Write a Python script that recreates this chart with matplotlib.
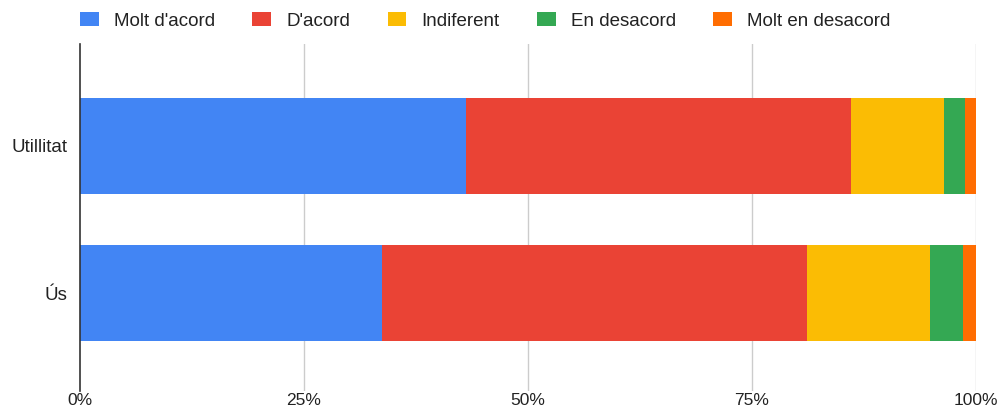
import matplotlib.pyplot as plt
import numpy as np

plt.rcParams['font.family'] = ['Liberation Sans', 'DejaVu Sans']

categories = ['Utillitat', 'Ús']
series_names = ["Molt d'acord", "D'acord", 'Indiferent', 'En desacord', 'Molt en desacord']
values = {
    "Molt d'acord": [43.1, 33.7],
    "D'acord": [43.0, 47.4],
    'Indiferent': [10.3, 13.8],
    'En desacord': [2.4, 3.7],
    'Molt en desacord': [1.2, 1.4],
}
colors = ['#4285F4', '#EA4335', '#FBBC04', '#34A853', '#FF6D01']
tick_vals = [0, 25, 50, 75, 100]
tick_labels = ['0%', '25%', '50%', '75%', '100%']

fig = plt.figure(figsize=(10.02, 4.12), dpi=100)
ax = fig.add_axes([0.0798, 0.05, 0.8942, 0.843])

ypos = np.arange(len(categories))
left = np.zeros(len(categories))
for name, col in zip(series_names, colors):
    v = np.array(values[name])
    ax.barh(ypos, v, left=left, height=0.65, color=col, label=name, zorder=3)
    left += v

ax.set_ylim(1.665, -0.69)
ax.set_xlim(0, 100)
ax.set_yticks(ypos)
ax.set_yticklabels(categories, fontsize=13.5, color='#222222')
ax.set_xticks(tick_vals)
ax.set_xticklabels(tick_labels, fontsize=12.5, color='#222222')
ax.tick_params(axis='y', length=0, pad=9)
ax.tick_params(axis='x', length=0, pad=1)

for t in tick_vals[1:]:
    ax.axvline(t, color='#cccccc', lw=1, zorder=1)
for s in ['top', 'right', 'bottom']:
    ax.spines[s].set_visible(False)
ax.spines['left'].set_color('#333333')
ax.spines['left'].set_linewidth(1.2)
ax.spines['left'].set_zorder(4)

fig.legend(loc='upper left', bbox_to_anchor=(0.063, 1.012), ncol=5, frameon=False,
           fontsize=13.5, handlelength=1.0, handleheight=0.8, handletextpad=0.8,
           columnspacing=2.0, labelcolor='#222222')

fig.savefig('out.png', dpi=100)
